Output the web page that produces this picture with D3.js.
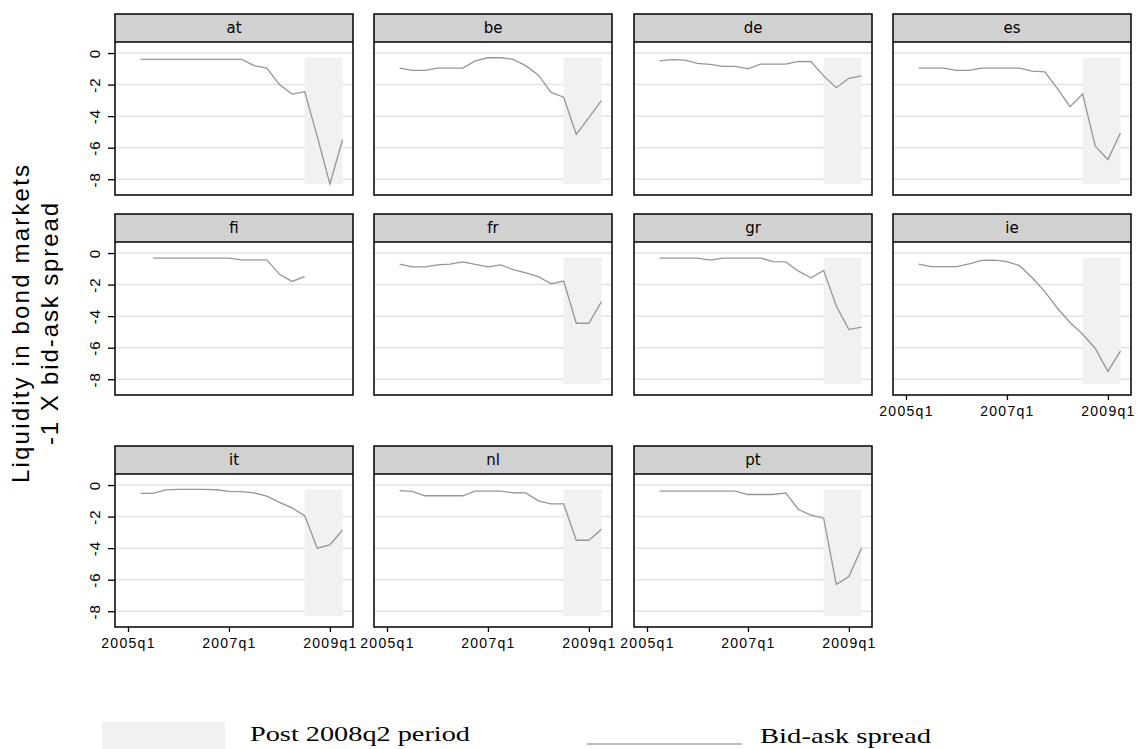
<!DOCTYPE html>
<html>
<head>
<meta charset="utf-8">
<script src="https://cdn.jsdelivr.net/npm/d3@7"></script>
<style>
body { margin: 0; background: #fff; }
</style>
</head>
<body>
<script>
// QUARTERS COVERED BY THE SERIES
const quarters = ["2005q2","2005q3","2005q4","2006q1","2006q2","2006q3","2006q4","2007q1","2007q2",
                  "2007q3","2007q4","2008q1","2008q2","2008q3","2008q4","2009q1","2009q2"];
const countries = ["at","be","de","es","fi","fr","gr","ie","it","nl","pt"];

// -1 X BID-ASK SPREAD, ONE ARRAY PER COUNTRY (null = no observation)
const at = [-0.4,-0.4,-0.4,-0.4,-0.4,-0.4,-0.4,-0.4,-0.4,-0.8,-0.95,-2.0,-2.6,-2.45,-5.3,-8.3,-5.5];
const be = [-0.95,-1.1,-1.1,-0.95,-0.95,-0.95,-0.5,-0.3,-0.3,-0.4,-0.8,-1.4,-2.5,-2.8,-5.15,-4.1,-3.0];
const de = [-0.5,-0.42,-0.45,-0.65,-0.72,-0.85,-0.85,-1.0,-0.7,-0.7,-0.7,-0.53,-0.55,-1.45,-2.2,-1.6,-1.45];
const es = [-0.95,-0.95,-0.95,-1.1,-1.1,-0.95,-0.95,-0.95,-0.95,-1.15,-1.2,-2.25,-3.4,-2.6,-5.9,-6.75,-5.05];
const fi = [null,-0.32,-0.32,-0.32,-0.32,-0.32,-0.32,-0.32,-0.43,-0.43,-0.43,-1.35,-1.8,-1.5,null,null,null];
const fr = [-0.7,-0.88,-0.88,-0.75,-0.7,-0.56,-0.72,-0.88,-0.75,-1.05,-1.25,-1.5,-1.95,-1.78,-4.45,-4.45,-3.07];
const gr = [-0.32,-0.32,-0.32,-0.32,-0.45,-0.32,-0.32,-0.32,-0.32,-0.54,-0.56,-1.15,-1.57,-1.1,-3.35,-4.85,-4.7];
const ie = [-0.7,-0.86,-0.86,-0.86,-0.68,-0.47,-0.45,-0.55,-0.8,-1.57,-2.45,-3.5,-4.4,-5.15,-6.05,-7.5,-6.2];
const it = [-0.53,-0.53,-0.3,-0.28,-0.28,-0.28,-0.3,-0.4,-0.42,-0.5,-0.7,-1.1,-1.45,-1.95,-4.0,-3.8,-2.85];
const nl = [-0.36,-0.4,-0.68,-0.68,-0.68,-0.68,-0.38,-0.38,-0.38,-0.49,-0.5,-1.0,-1.2,-1.2,-3.5,-3.5,-2.8];
const pt = [-0.38,-0.38,-0.38,-0.38,-0.38,-0.38,-0.38,-0.6,-0.6,-0.6,-0.5,-1.55,-1.9,-2.1,-6.3,-5.8,-4.0];

const xTickLabels = ["2005q1","2007q1","2009q1"];
const yTickValues = [0,-2,-4,-6,-8];
const postStart = "2008q3";
const yTitle = ["Liquidity in bond markets","-1 X bid-ask spread"];
const legendLabels = ["Post 2008q2 period","Bid-ask spread"];

const seriesByCountry = {at, be, de, es, fi, fr, gr, ie, it, nl, pt};

//USEFUL VARIABLES
const svgwidth = 1139;
const svgheight = 749;
const panelW = 238;
const stripH = 28;
const plotH = 153;
const colX = [115, 374, 634, 893];
const rowY = [14, 214, 446];

// QUARTER STRING -> INDEX FROM 2005q1
const qIndex = q => (+q.slice(0, 4) - 2005) * 4 + (+q.slice(5) - 1);

const X = d3.scaleLinear().domain([-1.03, 17.83]).range([0, panelW]);
const Y = d3.scaleLinear().domain([-9.0, 0.7]).range([plotH, 0]);

const allValues = countries.flatMap(c => seriesByCountry[c]).filter(v => v != null);
const shadeExtent = d3.extent(allValues);

const svg = d3.select("body").append("svg")
    .attr("width", svgwidth)
    .attr("height", svgheight)
    .style("font-family", "'Liberation Sans', Arial, sans-serif");

const line = d3.line()
    .defined(d => d.v != null)
    .x(d => X(qIndex(d.q)))
    .y(d => Y(d.v));

countries.forEach((c, i) => {
    const col = i % 4, row = Math.floor(i / 4);
    const data = quarters.map((q, j) => ({q: q, v: seriesByCountry[c][j]}));
    const g = svg.append("g")
        .attr("transform", `translate(${colX[col]}, ${rowY[row] + stripH})`);

    // GRIDLINES
    g.selectAll(".grid").data(yTickValues).enter().append("line")
        .attr("x1", 0).attr("x2", panelW)
        .attr("y1", d => Y(d)).attr("y2", d => Y(d))
        .attr("stroke", "#e3e3e3").attr("stroke-width", 1.5);

    // POST 2008q2 SHADE
    const defined = data.filter(d => d.v != null);
    const s0 = qIndex(postStart), s1 = qIndex(defined[defined.length - 1].q);
    if (s1 > s0) {
        g.append("rect")
            .attr("x", X(s0)).attr("width", X(s1) - X(s0))
            .attr("y", Y(shadeExtent[1])).attr("height", Y(shadeExtent[0]) - Y(shadeExtent[1]))
            .attr("fill", "#f1f1f1");
    }

    // SERIES LINE
    g.append("path").datum(data)
        .attr("d", line)
        .attr("fill", "none")
        .attr("stroke", "#969696")
        .attr("stroke-width", 1.3);

    // STRIP
    g.append("rect")
        .attr("x", 0).attr("y", -stripH)
        .attr("width", panelW).attr("height", stripH)
        .attr("fill", "#d1d1d1");
    g.append("line")
        .attr("x1", 0).attr("x2", panelW).attr("y1", 0).attr("y2", 0)
        .attr("stroke", "#000").attr("stroke-width", 1.5);
    g.append("text")
        .attr("x", panelW / 2).attr("y", -stripH / 2 + 5)
        .attr("text-anchor", "middle")
        .style("font-family", "'DejaVu Sans', sans-serif")
        .style("font-size", "15px")
        .text(c);

    // BORDER
    g.append("rect")
        .attr("x", 0).attr("y", -stripH)
        .attr("width", panelW).attr("height", stripH + plotH)
        .attr("fill", "none").attr("stroke", "#000").attr("stroke-width", 1.5);

    // Y AXIS ON FIRST COLUMN
    if (col === 0) {
        const yaxis = g.append("g").call(d3.axisLeft(Y).tickValues(yTickValues).tickSize(7));
        yaxis.select(".domain").remove();
        yaxis.selectAll("line").attr("stroke", "#000").attr("stroke-width", 1.3);
        yaxis.selectAll("text")
            .attr("transform", "rotate(-90)")
            .attr("x", 0).attr("y", -15).attr("dy", 0)
            .attr("text-anchor", "middle")
            .attr("fill", "#000")
            .style("font-size", "15px")
            .style("letter-spacing", "1px")
            .style("font-family", "'Liberation Sans', Arial, sans-serif")
            .text(d => String(d));
    }

    // X AXIS ON BOTTOM PANELS
    if (row === 2 || c === "ie") {
        const xaxis = g.append("g")
            .attr("transform", `translate(0, ${plotH})`)
            .call(d3.axisBottom(X).tickValues(xTickLabels.map(qIndex)).tickSize(5)
                .tickFormat((d, k) => xTickLabels[k]));
        xaxis.select(".domain").remove();
        xaxis.selectAll("line").attr("stroke", "#000").attr("stroke-width", 1.3);
        xaxis.selectAll("text")
            .attr("y", 21).attr("dy", 0)
            .attr("fill", "#000")
            .style("font-size", "14px")
            .style("letter-spacing", "1.3px")
            .style("font-family", "'Liberation Sans', Arial, sans-serif");
    }
});

// Y AXIS TITLE
const ytitle = svg.append("g").attr("transform", "translate(0, 324) rotate(-90)");
ytitle.append("text")
    .attr("x", 0).attr("y", 29)
    .attr("text-anchor", "middle")
    .attr("textLength", 318).attr("lengthAdjust", "spacing")
    .style("font-size", "24px")
    .text(yTitle[0]);
ytitle.append("text")
    .attr("x", 0).attr("y", 58)
    .attr("text-anchor", "middle")
    .attr("textLength", 242).attr("lengthAdjust", "spacing")
    .style("font-size", "24px")
    .text(yTitle[1]);

// LEGEND
const legend = svg.append("g").classed("legend", true);
legend.append("rect")
    .attr("x", 102).attr("y", 722).attr("width", 123).attr("height", 27)
    .attr("fill", "#f1f1f1");
legend.append("text")
    .attr("x", 250).attr("y", 741)
    .attr("textLength", 220).attr("lengthAdjust", "spacingAndGlyphs")
    .style("font-family", "'Liberation Serif', 'Times New Roman', serif")
    .style("font-size", "21px")
    .text(legendLabels[0]);
legend.append("line")
    .attr("x1", 587).attr("x2", 742).attr("y1", 744).attr("y2", 744)
    .attr("stroke", "#bdbdbd").attr("stroke-width", 2);
legend.append("text")
    .attr("x", 760).attr("y", 743)
    .attr("textLength", 171).attr("lengthAdjust", "spacingAndGlyphs")
    .style("font-family", "'Liberation Serif', 'Times New Roman', serif")
    .style("font-size", "21px")
    .text(legendLabels[1]);
</script>
</body>
</html>
